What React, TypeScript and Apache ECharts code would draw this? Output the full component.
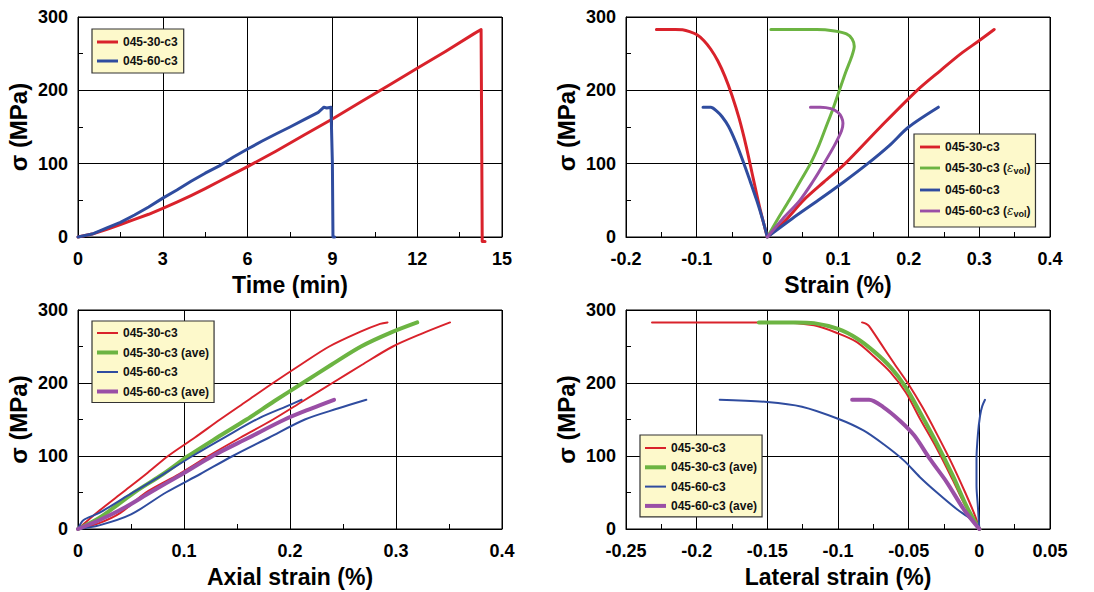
import React, { useEffect, useRef } from "react";
import * as echarts from "echarts";

// ---------- Panel 1: stress vs time ----------
const time30: number[][] = [
  [0, 0], [0.5, 4], [1, 10], [1.5, 17], [2, 24], [2.5, 31], [3, 39], [3.5, 47.5], [4, 56.5],
  [4.5, 66], [5, 76], [5.5, 86], [6, 96], [7, 117], [8, 139], [9, 161], [10, 184], [11, 207],
  [12, 230], [13, 253], [14, 277], [14.26, 283], [14.28, 150], [14.3, -6], [14.4, -6],
];
const time60: number[][] = [
  [0, 0], [0.5, 4], [1, 12], [1.5, 20], [2, 30], [2.5, 41], [3, 53], [3.5, 64], [4, 76], [4.5, 87],
  [5, 97], [5.5, 109], [6, 120], [6.5, 130.5], [7, 140.5], [7.5, 150], [8, 160], [8.5, 170],
  [8.7, 177], [8.8, 176], [8.95, 177], [9.0, 100], [9.02, 0], [9.08, 0],
];

// ---------- Panel 2: stress vs strain ----------
const lat30: number[][] = [
  [-0.157, 283], [-0.13, 283], [-0.12, 282.5], [-0.11, 280], [-0.1, 276], [-0.09, 268],
  [-0.08, 256], [-0.07, 240], [-0.06, 219], [-0.05, 193], [-0.04, 162], [-0.03, 124],
  [-0.02, 80], [-0.01, 37], [0, 0],
];
const ax30: number[][] = [
  [0, 0], [0.025, 22], [0.051, 50], [0.08, 75], [0.11, 100], [0.16, 150], [0.212, 200],
  [0.245, 227], [0.274, 250], [0.3, 268], [0.321, 283],
];
const vol30: number[][] = [
  [0, 0], [0.015, 25], [0.031, 50], [0.046, 75], [0.061, 100], [0.073, 125], [0.083, 150],
  [0.093, 175], [0.102, 200], [0.111, 225], [0.119, 245], [0.123, 260], [0.12, 270], [0.112, 277],
  [0.095, 281], [0.07, 283], [0.005, 283],
];
const lat60: number[][] = [
  [-0.091, 177], [-0.08, 177], [-0.072, 172], [-0.064, 164], [-0.055, 151], [-0.045, 130],
  [-0.035, 105], [-0.025, 78], [-0.015, 50], [-0.007, 25], [0, 0],
];
const ax60: number[][] = [
  [0, 0], [0.035, 25], [0.072, 50], [0.108, 75], [0.142, 100], [0.173, 125], [0.2, 150], [0.242, 177],
];
const vol60: number[][] = [
  [0, 0], [0.022, 25], [0.046, 50], [0.064, 75], [0.08, 100], [0.095, 125], [0.105, 145],
  [0.107, 155], [0.105, 163], [0.1, 170], [0.09, 175], [0.075, 177], [0.061, 177],
];

// ---------- Panel 3: stress vs axial strain ----------
const axial30a: number[][] = [
  [0, 0], [0.02, 25], [0.042, 50], [0.064, 75], [0.085, 100], [0.11, 125], [0.134, 150],
  [0.159, 175], [0.184, 200], [0.21, 225], [0.237, 250], [0.266, 270], [0.285, 281], [0.292, 283],
];
const axial30b: number[][] = [
  [0, 0], [0.02, 8], [0.04, 22], [0.064, 50], [0.095, 75], [0.123, 100], [0.153, 125], [0.184, 150],
  [0.212, 175], [0.24, 200], [0.268, 225], [0.297, 250], [0.325, 268], [0.351, 283],
];
const axial30ave: number[][] = [
  [0, 0], [0.02, 15], [0.053, 50], [0.08, 75], [0.104, 100], [0.131, 125], [0.159, 150],
  [0.185, 175], [0.212, 200], [0.239, 225], [0.267, 250], [0.295, 269], [0.32, 283],
];
const axial60a: number[][] = [
  [0, 0], [0.005, 12], [0.02, 22], [0.046, 45], [0.075, 70], [0.108, 100], [0.14, 127],
  [0.171, 152], [0.2, 170], [0.211, 177],
];
const axial60b: number[][] = [
  [0, 0], [0.02, 5], [0.05, 20], [0.083, 50], [0.115, 75], [0.146, 100], [0.18, 125], [0.214, 150],
  [0.245, 165], [0.272, 177],
];
const axial60ave: number[][] = [
  [0, 0], [0.02, 12], [0.045, 30], [0.068, 50], [0.098, 75], [0.127, 100], [0.161, 125],
  [0.195, 150], [0.22, 165], [0.2415, 177],
];

// ---------- Panel 4: stress vs lateral strain ----------
const lateral30a: number[][] = [
  [-0.2316, 283], [-0.18, 283], [-0.141, 283], [-0.117, 279], [-0.1, 268], [-0.0866, 256],
  [-0.075, 237], [-0.063, 215], [-0.052, 187], [-0.042, 151], [-0.03, 110], [-0.019, 68],
  [-0.01, 32], [0, 0],
];
const lateral30b: number[][] = [
  [-0.083, 283], [-0.08, 281], [-0.078, 278], [-0.07, 255], [-0.06, 226], [-0.05, 198],
  [-0.04, 166], [-0.03, 130], [-0.02, 92], [-0.01, 50], [-0.003, 18], [0, 0],
];
const lateral30ave: number[][] = [
  [-0.156, 283], [-0.13, 283], [-0.117, 282], [-0.1, 274], [-0.0866, 261], [-0.075, 244],
  [-0.063, 222], [-0.052, 194], [-0.042, 160], [-0.03, 117], [-0.019, 74], [-0.0087, 30], [0, 0],
];
const lateral60a: number[][] = [
  [-0.1837, 177], [-0.15, 174], [-0.1255, 167.5], [-0.1, 151], [-0.082, 135], [-0.0677, 116],
  [-0.0535, 94], [-0.042, 71], [-0.03, 50], [-0.0158, 27], [-0.0064, 14], [0, 0],
];
const lateral60b: number[][] = [
  [0, 0], [-0.001, 30], [-0.002, 60], [-0.002, 96], [-0.001, 130], [0.0005, 155], [0.002, 168],
  [0.004, 177],
];
const lateral60ave: number[][] = [
  [-0.09, 177], [-0.078, 177], [-0.068, 167], [-0.056, 148], [-0.046, 128], [-0.035, 96],
  [-0.023, 64], [-0.011, 27], [0, 0],
];

// ---------- names / axes ----------
const N30 = "045-30-c3";
const N60 = "045-60-c3";
const N30vol = "045-30-c3 (εvol)";
const N60vol = "045-60-c3 (εvol)";
const N30ave = "045-30-c3 (ave)";
const N60ave = "045-60-c3 (ave)";
const xNames = ["Time (min)", "Strain (%)", "Axial strain (%)", "Lateral strain (%)"];
const yName = "σ (MPa)";
const xRanges = [
  [0, 15, 3],
  [-0.2, 0.4, 0.1],
  [0, 0.4, 0.1],
  [-0.25, 0.05, 0.05],
];

const RED = "#d9222b";
const GREEN = "#6cb442";
const BLUE = "#2f4c9f";
const PURPLE = "#9a4fa6";
const FONT = "'Liberation Sans', Arial, sans-serif";

const grids = [
  { left: 78, top: 17, width: 424, height: 220 },
  { left: 626, top: 17, width: 424, height: 220 },
  { left: 78, top: 310, width: 424, height: 219 },
  { left: 626, top: 310, width: 424, height: 219 },
];

function buildOption() {
  const xAxis = xRanges.map((r, i) => ({
    type: "value",
    gridIndex: i,
    min: r[0],
    max: r[1],
    interval: r[2],
    name: xNames[i],
    nameLocation: "middle",
    nameGap: 36,
    nameTextStyle: { fontSize: 23, fontWeight: "bold", color: "#000", fontFamily: FONT },
    axisLine: { show: true, onZero: false, lineStyle: { color: "#000", width: 1 } },
    axisTick: { show: true, inside: true, length: 5, lineStyle: { color: "#000" } },
    minorTick: { show: true, splitNumber: 2, length: 5, lineStyle: { color: "#000" } },
    splitLine: { show: true, lineStyle: { color: "#000", width: 1 } },
    axisLabel: { fontSize: 18, fontWeight: "bold", color: "#000", fontFamily: FONT, margin: 13 },
  }));
  const yAxis = grids.map((_, i) => ({
    type: "value",
    gridIndex: i,
    min: 0,
    max: 300,
    interval: 100,
    name: yName,
    nameLocation: "middle",
    nameGap: 48,
    nameTextStyle: { fontSize: 24, fontWeight: "bold", color: "#000", fontFamily: FONT },
    axisLine: { show: true, onZero: false, lineStyle: { color: "#000", width: 1 } },
    axisTick: { show: true, inside: true, length: 5, lineStyle: { color: "#000" } },
    minorTick: { show: true, splitNumber: 2, length: 5, lineStyle: { color: "#000" } },
    splitLine: { show: true, lineStyle: { color: "#000", width: 1 } },
    axisLabel: { fontSize: 18, fontWeight: "bold", color: "#000", fontFamily: FONT, margin: 10 },
  }));

  const s = (name: string, data: number[][], idx: number, color: string, width: number, smooth: number) => ({
    type: "line",
    name,
    data,
    xAxisIndex: idx,
    yAxisIndex: idx,
    symbol: "none",
    showSymbol: false,
    clip: idx !== 0,
    smooth,
    lineStyle: { color, width, cap: "round", join: "round" },
    itemStyle: { color },
    z: 3,
  });

  const series = [
    s(N30, time30, 0, RED, 3, 0),
    s(N60, time60, 0, BLUE, 3, 0),
    s(N30, lat30, 1, RED, 3, 0.3),
    s(N30, ax30, 1, RED, 3, 0.3),
    s(N30vol, vol30, 1, GREEN, 3, 0.3),
    s(N60, lat60, 1, BLUE, 3, 0.3),
    s(N60, ax60, 1, BLUE, 3, 0.3),
    s(N60vol, vol60, 1, PURPLE, 3, 0.3),
    s(N30, axial30a, 2, RED, 2, 0.3),
    s(N30, axial30b, 2, RED, 2, 0.3),
    s(N30ave, axial30ave, 2, GREEN, 4, 0.3),
    s(N60, axial60a, 2, BLUE, 2, 0.3),
    s(N60, axial60b, 2, BLUE, 2, 0.3),
    s(N60ave, axial60ave, 2, PURPLE, 4, 0.3),
    s(N30, lateral30a, 3, RED, 2, 0.3),
    s(N30, lateral30b, 3, RED, 2, 0.3),
    s(N30ave, lateral30ave, 3, GREEN, 4, 0.3),
    s(N60, lateral60a, 3, BLUE, 2, 0.3),
    s(N60, lateral60b, 3, BLUE, 2, 0.3),
    s(N60ave, lateral60ave, 3, PURPLE, 4, 0.3),
  ];

  const legendBase = {
    orient: "vertical",
    itemWidth: 21,
    itemHeight: 12,
    itemGap: 7,
    backgroundColor: "#fdf9cb",
    borderColor: "#333",
    borderWidth: 1.2,
    borderRadius: 0,
    selectedMode: false,
    symbolKeepAspect: true,
    formatter: (name: string) => name.replace("(εvol)", "({eps|ε}{sub|vol})"),
    textStyle: {
      fontSize: 12,
      fontWeight: "bold",
      color: "#111",
      fontFamily: FONT,
      rich: {
        eps: { fontSize: 12, fontStyle: "italic", fontWeight: "normal", fontFamily: "'DejaVu Serif', serif", color: "#111" },
        sub: { fontSize: 9, fontWeight: "bold", fontFamily: FONT, color: "#111", padding: [5, 0, 0, 0] },
      },
    },
  };
  const item = (name: string, thick: number) => ({
    name,
    icon: `path://M0,0H21V${thick}H0Z`,
  });

  const legend = [
    { ...legendBase, left: 92, top: 29, padding: [7, 6, 6, 5], itemTextGap: 11, data: [item(N30, 3), item(N60, 3)] },
    {
      ...legendBase, left: 914, top: 134, padding: [7, 5, 9, 6], itemGap: 9, itemWidth: 20, itemTextGap: 10,
      data: [item(N30, 3), item(N30vol, 3), item(N60, 3), item(N60vol, 3)],
    },
    {
      ...legendBase, left: 92, top: 321, padding: [6, 5, 5, 5], itemGap: 7.5, itemTextGap: 11,
      data: [item(N30, 2), item(N30ave, 4), item(N60, 2), item(N60ave, 4)],
    },
    {
      ...legendBase, left: 640, top: 435, padding: [7, 5, 5, 5], itemGap: 7.3, itemTextGap: 11,
      data: [item(N30, 2), item(N30ave, 4), item(N60, 2), item(N60ave, 4)],
    },
  ];

  return {
    animation: false,
    backgroundColor: "#fff",
    textStyle: { fontFamily: FONT },
    grid: grids.map((g) => ({ ...g, show: true, borderColor: "#000", borderWidth: 1, backgroundColor: "transparent" })),
    xAxis,
    yAxis,
    legend,
    series,
  };
}

export default function App() {
  const ref = useRef<HTMLDivElement>(null);
  useEffect(() => {
    document.body.style.margin = "0";
    if (!ref.current) return;
    const chart = echarts.init(ref.current, null, { renderer: "svg" });
    chart.setOption(buildOption() as any);
    return () => chart.dispose();
  }, []);
  return <div ref={ref} style={{ width: 1094, height: 592 }} />;
}
